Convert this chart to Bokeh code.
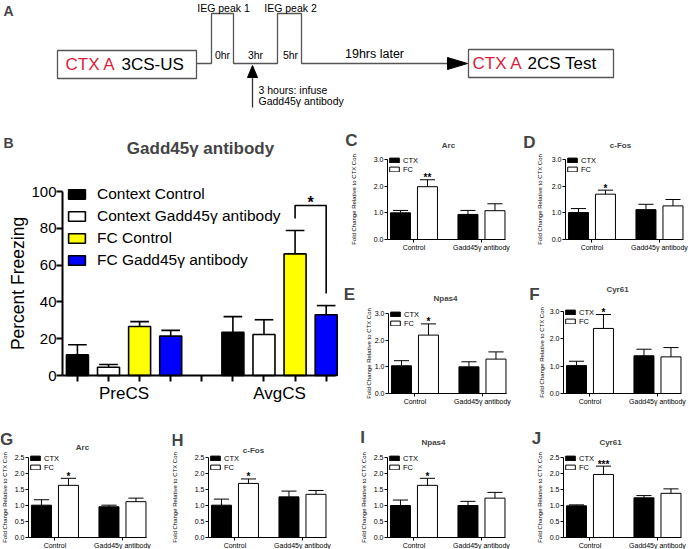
from bokeh.plotting import figure
from bokeh.models import (ColumnDataSource, FixedTicker, Legend, LegendItem, Label,
                          Range1d, PrintfTickFormatter)
from bokeh.layouts import row, column
from bokeh.embed import file_html
from bokeh.resources import INLINE
from bokeh.core.properties import value

# ---------------- data ----------------
# Panel B: percent freezing
b_phases = ["PreCS", "AvgCS"]
b_groups = ["Context Control", "Context Gadd45γ antibody", "FC Control", "FC Gadd45γ antibody"]
b_colors = ["#000000", "#ffffff", "#ffff00", "#0000ff"]
b_pre_mean = [11.2, 4.5, 26.6, 21.4]
b_pre_sem = [5.5, 1.5, 2.7, 3.1]
b_avg_mean = [23.5, 22.3, 66.1, 33.0]
b_avg_sem = [8.5, 8.0, 12.7, 5.0]
b_yticks = [0, 20, 40, 60, 80, 100]
b_title = "Gadd45γ antibody"

# Panels C-J: fold change (order: CTX Control, FC Control, CTX Gadd45γ, FC Gadd45γ)
gene_groups = ["Control", "Gadd45γ antibody"]
gene_series = ["CTX", "FC"]
c_arc_mean = [1.00, 1.98, 0.94, 1.08];   c_arc_sem = [0.09, 0.26, 0.15, 0.26]
d_cfos_mean = [1.01, 1.70, 1.12, 1.26];  d_cfos_sem = [0.15, 0.15, 0.20, 0.24]
e_npas4_mean = [1.04, 2.19, 1.00, 1.29]; e_npas4_sem = [0.19, 0.42, 0.19, 0.27]
f_cyr61_mean = [1.02, 2.38, 1.38, 1.34]; f_cyr61_sem = [0.16, 0.51, 0.24, 0.34]
g_arc_mean = [1.01, 1.63, 0.96, 1.12];   g_arc_sem = [0.17, 0.22, 0.05, 0.11]
h_cfos_mean = [1.01, 1.69, 1.27, 1.35];  h_cfos_sem = [0.19, 0.14, 0.18, 0.12]
i_npas4_mean = [1.00, 1.63, 1.00, 1.23]; i_npas4_sem = [0.17, 0.22, 0.13, 0.18]
j_cyr61_mean = [0.99, 1.97, 1.24, 1.38]; j_cyr61_sem = [0.03, 0.26, 0.07, 0.14]
sig_c, sig_d, sig_e, sig_f = "**", "*", "*", "*"
sig_g, sig_h, sig_i, sig_j = "*", "*", "*", "***"
yticks_top = [0, 1, 2, 3]
yticks_bottom = [0, 0.5, 1.0, 1.5, 2.0, 2.5]

# ---------------- layout helpers ----------------
K = 1.0
FONT = "Liberation Sans"
RED = "#d81e3c"


def S(v):
    return int(round(v * K))


def px(v):
    return f"{v * K:.2f}px"


def style_axis(ax, fs, lw, tick_out, standoff):
    ax.axis_line_color = "black"
    ax.axis_line_width = lw
    ax.major_tick_line_color = "black"
    ax.major_tick_line_width = lw
    ax.major_tick_out = tick_out
    ax.major_tick_in = 0
    ax.minor_tick_line_color = None
    ax.major_label_text_font = FONT
    ax.major_label_text_font_size = fs
    ax.major_label_text_color = "black"
    ax.major_label_standoff = standoff
    ax.axis_label_text_font = FONT
    ax.axis_label_text_font_style = "normal"
    ax.axis_label_text_color = "black"


# ---------------- Panel A (schematic) ----------------
pa = figure(width=S(688), height=S(130), x_range=Range1d(0, 688), y_range=Range1d(130, 0),
            x_axis_type=None, y_axis_type=None, min_border=0, output_backend="svg",
            toolbar_location=None, outline_line_color=None)
pa.grid.visible = False
box_left, box_right, box_top, box_bottom = [57, 468], [196, 613], [50, 49], [78, 77]
pa.quad(left=box_left, right=box_right, top=box_top, bottom=box_bottom,
        fill_color=None, line_color="#555555", line_width=1.3)
tl_x = [196, 211, 211, 233, 233, 277, 277, 301, 301, 450]
tl_y = [63, 63, 13, 13, 63, 63, 13, 13, 63, 63]
pa.line(tl_x, tl_y, line_color="#555555", line_width=1.3)
pa.patch([447, 467, 447], [57, 63, 69], color="black")
pa.line([252, 252], [107, 76], line_color="#333333", line_width=1.3)
pa.patch([247, 252, 257], [77, 65, 77], color="black")
a_texts = [
    ("CTX A", 65, 64, RED, 17, "left"), ("3CS-US", 121, 64, "black", 17, "left"),
    ("CTX A", 472, 63, RED, 17, "left"), ("2CS Test", 527, 63, "black", 17, "left"),
    ("IEG peak 1", 223, 7, "black", 10.5, "center"), ("IEG peak 2", 290, 7, "black", 10.5, "center"),
    ("0hr", 222, 54, "black", 10.5, "center"), ("3hr", 255, 54, "black", 10.5, "center"),
    ("5hr", 290, 54, "black", 10.5, "center"), ("19hrs later", 374, 53, "black", 12.5, "center"),
    ("3 hours: infuse", 258, 89, "black", 10.5, "left"),
    ("Gadd45γ antibody", 258, 100, "black", 10.5, "left"),
]
for t, x, y, c, fs, al in a_texts:
    pa.text(x=[x], y=[y], text=[t], text_color=c, text_font=value(FONT), text_font_size=px(fs),
            text_align=al, text_baseline="middle")
pa.add_layout(Label(x=8, y=10, text="A", text_font=FONT, text_font_size=px(14),
                    text_font_style="bold", text_align="center", text_baseline="middle"))

# ---------------- Panel B ----------------
bbox = (0, 130, 340, 428)
bfr = (62, 191, 335, 375)
b_x0, b_x1 = 0.52, 9.3
b_slot = (bfr[2] - bfr[0]) / (b_x1 - b_x0)
b_uy = (bfr[3] - bfr[1]) / 100.0


def bdx(xref):
    return b_x0 + (xref - bfr[0]) / b_slot


def bdy(yref):
    return (bfr[3] - yref) / b_uy


pb = figure(width=S(bbox[2]) - S(bbox[0]), height=S(bbox[3]) - S(bbox[1]),
            x_range=Range1d(bdx(bbox[0]), bdx(bbox[2])), y_range=Range1d(bdy(bbox[3]), bdy(bbox[1])),
            min_border=0, output_backend="svg", toolbar_location=None, outline_line_color=None)
pb.grid.visible = False
b_bw = 22 / b_slot
b_cw = 0.3
b_items = []
b_pos = {}
for i, (g, c) in enumerate(zip(b_groups, b_colors)):
    xs = [ph * 5 + i + 1 for ph in range(len(b_phases))]
    tops = [b_pre_mean[i], b_avg_mean[i]]
    errs = [b_pre_sem[i], b_avg_sem[i]]
    src = ColumnDataSource(dict(x=xs, top=tops, et=[t + e for t, e in zip(tops, errs)],
                                x0=[x - b_cw for x in xs], x1=[x + b_cw for x in xs]))
    r = pb.vbar(x="x", top="top", bottom=0, width=b_bw, fill_color=c, line_color="black",
                line_width=1.6, source=src)
    pb.segment(x0="x", y0="top", x1="x", y1="et", line_color="black", line_width=1.6, source=src)
    pb.segment(x0="x0", y0="et", x1="x1", y1="et", line_color="black", line_width=1.6, source=src)
    b_items.append(LegendItem(label=g, renderers=[r]))
    b_pos[g] = (xs[1], tops[1] + errs[1])

# significance bracket between FC Control and FC Gadd45γ (AvgCS)
(xl, el), (xr_, er) = b_pos[b_groups[2]], b_pos[b_groups[3]]
br_top = max(el, er) + 13.6
pb.line([xl, xl, xr_, xr_], [el + 6.5, br_top, br_top, er + 6.6], line_color="black", line_width=1.6)
pb.text(x=[(xl + xr_) / 2], y=[br_top + 1.5], text=["*"], text_font=value(FONT),
        text_font_size=px(16), text_font_style="bold", text_align="center",
        text_baseline="alphabetic")

pb.xaxis.fixed_location = 0
pb.xaxis.bounds = (b_x0, b_x1)
pb.yaxis.fixed_location = b_x0
pb.yaxis.bounds = (0, 100)
pb.xaxis.ticker = FixedTicker(ticks=[2.5, 7.5], minor_ticks=list(range(1, 10)))
pb.xaxis.major_label_overrides = {2.5: b_phases[0], 7.5: b_phases[1]}
pb.yaxis.ticker = FixedTicker(ticks=b_yticks)
style_axis(pb.xaxis[0], px(17), 2, 0, S(2))
pb.xaxis.major_tick_line_color = None
pb.xaxis.minor_tick_line_color = "black"
pb.xaxis.minor_tick_line_width = 2
pb.xaxis.minor_tick_out = S(6)
pb.xaxis.minor_tick_in = 0
style_axis(pb.yaxis[0], px(15), 2, S(6), 0)
pb.yaxis.axis_label = "Percent Freezing"
pb.yaxis.axis_label_text_font_size = px(17.5)
pb.yaxis.axis_label_standoff = 0

b_H = S(bbox[3]) - S(bbox[1])
b_leg = Legend(items=b_items, location=((66 - bbox[0]) * K, b_H - (183 - bbox[1]) * K - 4 * S(22.3)),
               glyph_width=S(21), glyph_height=S(12), label_height=S(22.3), label_width=10,
               label_standoff=S(10), spacing=0, padding=0, margin=0,
               label_text_font=FONT, label_text_font_size=px(15.5), label_text_color="black",
               background_fill_alpha=0, border_line_color=None)
pb.add_layout(b_leg)
pb.add_layout(Label(x=bdx(8), y=bdy(142), text="B", text_font=FONT, text_font_size=px(14),
                    text_font_style="bold", text_align="center", text_baseline="middle"))
pb.add_layout(Label(x=bdx(200), y=bdy(148), text=b_title, text_font=FONT, text_font_size=px(17),
                    text_font_style="bold", text_align="center", text_baseline="middle"))


# ---------------- Panels C-J ----------------
def gene_panel(letter, gene, means, sems, sig, yticks, box, fr, letter_pos, title_pos, ylab_off):
    x0, y0, x1, y1 = box
    fx0, fy0, fx1, fy1 = fr
    ymax = yticks[-1]
    xa, xb = 0.52, 4.89
    slot = (fx1 - fx0) / (xb - xa)
    uy = (fy1 - fy0) / ymax

    def dx(xref):
        return xa + (xref - fx0) / slot

    def dy(yref):
        return (fy1 - yref) / uy

    W = S(x1) - S(x0)
    H = S(y1) - S(y0)
    p = figure(width=W, height=H, x_range=Range1d(dx(x0), dx(x1)), y_range=Range1d(dy(y1), dy(y0)),
               min_border=0, output_backend="svg", toolbar_location=None, outline_line_color=None)
    p.grid.visible = False
    bw = 20 / slot
    cw = 0.28
    xs_all = [g * 2.5 + s + 1 for g in range(len(gene_groups)) for s in range(len(gene_series))]
    items = []
    for s, (name, fc) in enumerate(zip(gene_series, ["black", "white"])):
        idx = [g * len(gene_series) + s for g in range(len(gene_groups))]
        xs = [xs_all[k] for k in idx]
        tops = [means[k] for k in idx]
        ets = [means[k] + sems[k] for k in idx]
        src = ColumnDataSource(dict(x=xs, top=tops, et=ets, x0=[x - cw for x in xs],
                                    x1=[x + cw for x in xs]))
        r = p.vbar(x="x", top="top", bottom=0, width=bw, fill_color=fc, line_color="black",
                   line_width=1, source=src)
        p.segment(x0="x", y0="top", x1="x", y1="et", line_color="black", line_width=1, source=src)
        p.segment(x0="x0", y0="et", x1="x1", y1="et", line_color="black", line_width=1, source=src)
        items.append(LegendItem(label=name, renderers=[r]))
    p.text(x=[xs_all[1]], y=[means[1] + sems[1] + 2.0 / uy], text=[sig], text_font=value(FONT),
           text_font_size=px(10), text_font_style="bold", text_align="center",
           text_baseline="alphabetic")
    centers = [(xs_all[2 * g] + xs_all[2 * g + 1]) / 2 for g in range(len(gene_groups))]
    p.xaxis.fixed_location = 0
    p.xaxis.bounds = (xa, xb)
    p.yaxis.fixed_location = xa
    p.yaxis.bounds = (0, ymax)
    p.xaxis.ticker = FixedTicker(ticks=centers)
    p.xaxis.major_label_overrides = {c: g for c, g in zip(centers, gene_groups)}
    p.yaxis.ticker = FixedTicker(ticks=yticks)
    p.yaxis.formatter = PrintfTickFormatter(format="%.1f")
    style_axis(p.xaxis[0], px(7), 1, 3, 1)
    style_axis(p.yaxis[0], px(7), 1, 3, 1)
    p.yaxis.axis_label = "Fold Change Relative to CTX Con"
    p.yaxis.axis_label_text_font_size = px(6)
    p.yaxis.axis_label_standoff = max(0, int(round((ylab_off - 17.5) * K)))
    leg = Legend(items=items, location=((fx0 + 1 - x0) * K, H - (fy0 - 3.5 - y0) * K - 2 * S(9)),
                 glyph_width=S(12), glyph_height=S(6), label_height=S(9), label_width=10,
                 label_standoff=S(3), spacing=0, padding=0, margin=0,
                 label_text_font=FONT, label_text_font_size=px(7.5), label_text_color="black",
                 background_fill_alpha=0, border_line_color=None)
    p.add_layout(leg)
    p.add_layout(Label(x=dx(letter_pos[0]), y=dy(letter_pos[1]), text=letter, text_font=FONT,
                       text_font_size=px(17), text_font_style="bold", text_align="center",
                       text_baseline="middle"))
    p.add_layout(Label(x=dx(title_pos[0]), y=dy(title_pos[1]), text=gene, text_font=FONT,
                       text_font_size=px(8), text_font_style="bold", text_align="center",
                       text_baseline="middle"))
    return p


pc = gene_panel("C", "Arc", c_arc_mean, c_arc_sem, sig_c, yticks_top,
                (340, 130, 512, 277), (387, 159, 505, 239), (351, 140), (448, 145), 32)
pd_ = gene_panel("D", "c-Fos", d_cfos_mean, d_cfos_sem, sig_d, yticks_top,
                 (512, 130, 688, 277), (565, 159, 683, 239), (529, 142), (620, 145), 24)
pe = gene_panel("E", "Npas4", e_npas4_mean, e_npas4_sem, sig_e, yticks_top,
                (340, 277, 512, 428), (388, 313, 506, 393), (349, 294), (445, 298), 17)
pf = gene_panel("F", "Cyr61", f_cyr61_mean, f_cyr61_sem, sig_f, yticks_top,
                (512, 277, 688, 428), (563, 311, 681, 393), (534, 294), (617, 289), 20)
pg = gene_panel("G", "Arc", g_arc_mean, g_arc_sem, sig_g, yticks_bottom,
                (0, 428, 172, 549), (28, 457, 146, 537), (6, 439), (82, 447), 22)
ph = gene_panel("H", "c-Fos", h_cfos_mean, h_cfos_sem, sig_h, yticks_bottom,
                (172, 428, 344, 549), (208, 457, 326, 537), (177, 440), (253, 450), 31)
pi = gene_panel("I", "Npas4", i_npas4_mean, i_npas4_sem, sig_i, yticks_bottom,
                (344, 428, 516, 549), (387, 457, 505, 537), (362, 437), (433, 442), 22)
pj = gene_panel("J", "Cyr61", j_cyr61_mean, j_cyr61_sem, sig_j, yticks_bottom,
                (516, 428, 688, 549), (563, 457, 681, 537), (536, 438), (610, 442), 21)

layout = column(pa,
                row(pb, column(row(pc, pd_), row(pe, pf))),
                row(pg, ph, pi, pj))

open("out.html", "w").write(file_html(layout, INLINE))
